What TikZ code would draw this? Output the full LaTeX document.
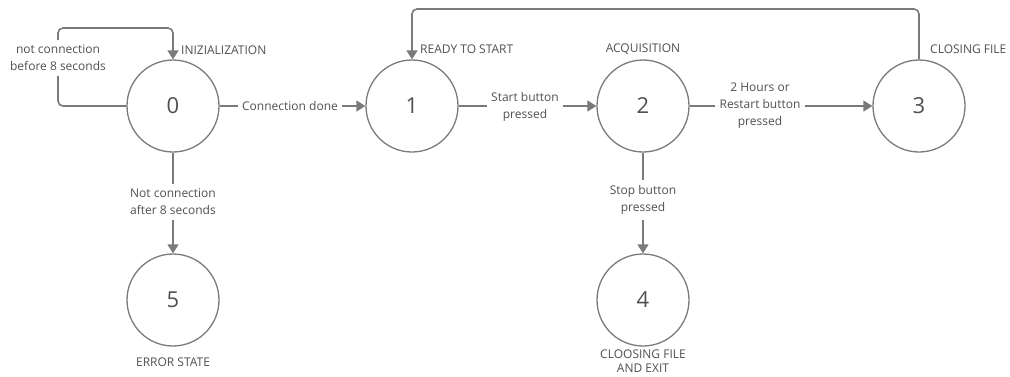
\documentclass[tikz,border=0pt]{standalone}
\usepackage{fontspec}
\setmainfont{Open Sans}
\usetikzlibrary{arrows.meta}
\definecolor{ln}{HTML}{7A7A7A}
\definecolor{tx}{HTML}{505050}
\begin{document}
\begin{tikzpicture}[x=1pt,y=-1pt,
  state/.style={circle,draw=ln,line width=1.3pt,minimum size=92pt,inner sep=0pt,
    font=\fontsize{22}{24}\selectfont,text=tx},
  lbl/.style={font=\fontsize{12}{17}\selectfont,text=tx,align=center,inner xsep=4pt,inner ysep=5pt},
  stname/.style={font=\fontsize{12}{14.5}\selectfont,text=tx,align=center,inner sep=1pt},
  edge/.style={draw=ln,line width=1.6pt,-{Triangle[length=9pt,width=11pt]}},
  seg/.style={draw=ln,line width=1.6pt},
  ]
\useasboundingbox (0,0) rectangle (1010,376);
\node[state] (s0) at (173,106) {0};
\node[state] (s1) at (412,106) {1};
\node[state] (s2) at (643,106) {2};
\node[state] (s3) at (919,106) {3};
\node[state] (s4) at (643,300) {4};
\node[state] (s5) at (173,300) {5};
% state names
\node[stname,anchor=west] (n0) at (180,50) {INIZIALIZATION};
\node[stname,anchor=west] (n1) at (419,49) {READY TO START};
\node[stname] (n2) at (643,49) {ACQUISITION};
\node[stname,anchor=west] (n3) at (929,49) {CLOSING FILE};
\node[stname] (n5) at (173,362) {ERROR STATE};
\node[stname] (n4) at (643,361) {CLOOSING FILE\\AND EXIT};
% edge labels
\node[lbl] (l00) at (58,58) {not connection\\before 8 seconds};
\node[lbl] (l01) at (290,106) {Connection done};
\node[lbl] (l12) at (525,107) {Start button\\pressed};
\node[lbl] (l23) at (760,106) {2 Hours or\\Restart button\\pressed};
\node[lbl] (l05) at (173,202) {Not connection\\after 8 seconds};
\node[lbl] (l24) at (643,200) {Stop button\\pressed};
\coordinate (t0) at (173,28);
\coordinate (t1) at (412,9);
% connectors
\draw[seg,rounded corners=5pt] (s0.west) -| (l00.south);
\draw[edge,rounded corners=5pt] (l00.north) |- (t0) -- (s0.north);
\draw[seg] (s0.east) -- (l01.west);
\draw[edge] (l01.east) -- (s1.west);
\draw[seg] (s1.east) -- (l12.west |- s1.east);
\draw[edge] (l12.east |- s2.west) -- (s2.west);
\draw[seg] (s2.east) -- (l23.west |- s2.east);
\draw[edge] (l23.east |- s3.west) -- (s3.west);
\draw[edge,rounded corners=5pt] (s3.north) |- (t1) -- (s1.north);
\draw[seg] (s0.south) -- (l05.north);
\draw[edge] (l05.south) -- (s5.north);
\draw[seg] (s2.south) -- (l24.north);
\draw[edge] (l24.south) -- (s4.north);
\end{tikzpicture}
\end{document}
